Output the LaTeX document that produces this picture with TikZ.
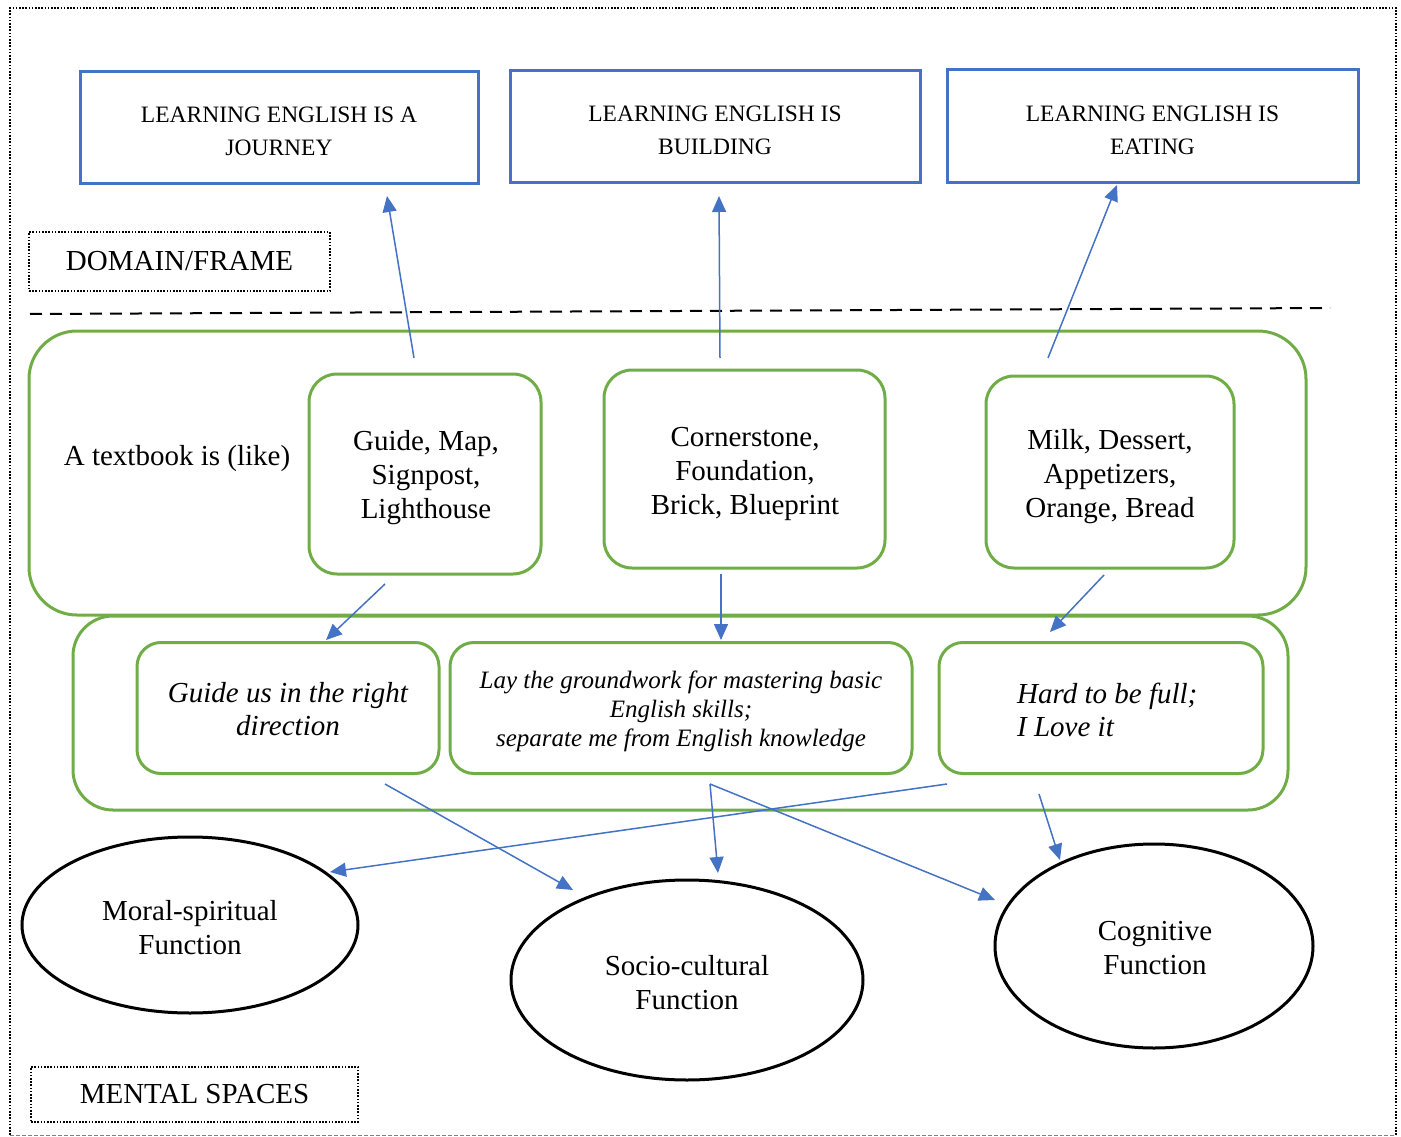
\documentclass[tikz,border=0pt]{standalone}
\usepackage{fontspec}
\setmainfont{Liberation Serif}
\usetikzlibrary{shapes.geometric,arrows.meta}
\definecolor{bbox}{RGB}{68,114,196}
\definecolor{gbox}{RGB}{112,173,71}
\begin{document}
\begin{tikzpicture}[x=1pt,y=-1pt,
  topbox/.style={draw=bbox,line width=3pt,rectangle,inner sep=0pt},
  toptext/.style={align=center,font=\fontsize{23.5}{33}\selectfont},
  labelbox/.style={draw=black,line width=2pt,dash pattern=on 1.6pt off 1.6pt,rectangle,inner sep=0pt,font=\fontsize{29}{34}\selectfont},
  gouter/.style={draw=gbox,line width=3pt,rectangle,rounded corners=48pt,inner sep=0pt},
  ginner/.style={draw=gbox,line width=3pt,rectangle,rounded corners=28pt,inner sep=0pt},
  gital/.style={draw=gbox,line width=3pt,rectangle,rounded corners=24pt,inner sep=0pt},
  ntext/.style={align=center,font=\fontsize{29}{34}\selectfont},
  fellipse/.style={draw=black,line width=3pt,ellipse,inner sep=0pt},
  arr/.style={draw=bbox,line width=1.5pt,-{Triangle[length=16pt,width=14pt]}}]
\useasboundingbox (0,0) rectangle (1401,1137);
% outer frame
\draw[line width=2.2pt,dash pattern=on 1.6pt off 1.6pt] (10,1135) -- (10,8) -- (1396,8) -- (1396,1135);
\draw[gray,line width=0.8pt,dash pattern=on 4pt off 2pt] (10,1135) -- (1396,1135);
% top boxes
\node[topbox,minimum width=398pt,minimum height=112pt] (jour) at (279,128) {};
\node[toptext] (jourt) at (279,131) {LEARNING ENGLISH IS A\\JOURNEY};
\node[topbox,minimum width=410pt,minimum height=112pt] (build) at (715,127) {};
\node[toptext] (buildt) at (715,130) {LEARNING ENGLISH IS\\BUILDING};
\node[topbox,minimum width=411pt,minimum height=113pt] (eat) at (1152.5,126.5) {};
\node[toptext] (eatt) at (1152.5,130) {LEARNING ENGLISH IS\\EATING};
% domain label
\node[labelbox,minimum width=301pt,minimum height=59pt] (domain) at (179.5,261.5) {DOMAIN/FRAME};
\draw[line width=2pt,dash pattern=on 12pt off 8pt] (30,314) -- (1330,308);
% green containers
\node[gouter,minimum width=1277pt,minimum height=284pt] (cont1) at (667.5,473) {};
\node[gouter,rounded corners=40pt,minimum width=1215pt,minimum height=194pt] (cont2) at (680.5,713) {};
\node[ntext] (tb) at (177,459) {A textbook is (like)};
\node[ginner,minimum width=232pt,minimum height=200pt] (guide) at (425,474) {};
\node[ntext] (guidet) at (426,478) {Guide, Map,\\Signpost,\\Lighthouse};
\node[ginner,minimum width=281pt,minimum height=198pt] (corner) at (744.5,469) {};
\node[ntext] (cornert) at (745,474) {Cornerstone,\\Foundation,\\Brick, Blueprint};
\node[ginner,minimum width=248pt,minimum height=192pt] (milk) at (1110,472) {};
\node[ntext] (milkt) at (1110,477) {Milk, Dessert,\\Appetizers,\\Orange, Bread};
\node[gital,minimum width=302pt,minimum height=131pt] (gdir) at (288,708) {};
\node[align=center,font=\itshape\fontsize{29}{33}\selectfont] (gdirt) at (288,709) {Guide us in the right\\direction};
\node[gital,minimum width=462pt,minimum height=131pt] (lay) at (681,708) {};
\node[align=center,font=\itshape\fontsize{25}{29}\selectfont] (layt) at (681,711) {Lay the groundwork for mastering basic\\English skills;\\separate me from English knowledge};
\node[gital,minimum width=324pt,minimum height=131pt] (hard) at (1101,708) {};
\node[align=left,font=\itshape\fontsize{29}{33}\selectfont,anchor=west,inner sep=0pt] (hardt) at (1017,710) {Hard to be full;\\I Love it};
% ellipses
\node[fellipse,minimum width=336pt,minimum height=176pt] (moral) at (190,925) {};
\node[ntext] (moralt) at (190,928) {Moral-spiritual\\Function};
\node[fellipse,minimum width=352pt,minimum height=200pt] (socio) at (687,980) {};
\node[ntext] (sociot) at (687,983) {Socio-cultural\\Function};
\node[fellipse,minimum width=318pt,minimum height=204pt] (cog) at (1154,946) {};
\node[ntext] (cogt) at (1155,948) {Cognitive\\Function};
% mental spaces label
\node[labelbox,minimum width=327pt,minimum height=55pt] (mental) at (194.5,1094.5) {MENTAL SPACES};
% arrow endpoints
\coordinate (a1s) at (414,358); \coordinate (a1e) at (387,196);
\coordinate (a2s) at (720,358); \coordinate (a2e) at (719,196);
\coordinate (a3s) at (1048,358); \coordinate (a3e) at (1117,185);
\coordinate (a4s) at (385,584); \coordinate (a4e) at (326,640);
\coordinate (a5s) at (721,574); \coordinate (a5e) at (721,640);
\coordinate (a6s) at (1104,575); \coordinate (a6e) at (1050,632);
\coordinate (a7s) at (385,784); \coordinate (a7e) at (573,890);
\coordinate (fork) at (710,784); \coordinate (a8e) at (718,873); \coordinate (a9e) at (995,900);
\coordinate (a10s) at (947,784); \coordinate (a10e) at (330,872);
\coordinate (a11s) at (1039,794); \coordinate (a11e) at (1060,860);
\draw[arr] (a1s) -- (a1e);
\draw[arr] (a2s) -- (a2e);
\draw[arr] (a3s) -- (a3e);
\draw[arr] (a4s) -- (a4e);
\draw[arr] (a5s) -- (a5e);
\draw[arr] (a6s) -- (a6e);
\draw[arr] (a7s) -- (a7e);
\draw[arr] (fork) -- (a8e);
\draw[arr] (fork) -- (a9e);
\draw[arr] (a10s) -- (a10e);
\draw[arr] (a11s) -- (a11e);
\end{tikzpicture}
\end{document}
